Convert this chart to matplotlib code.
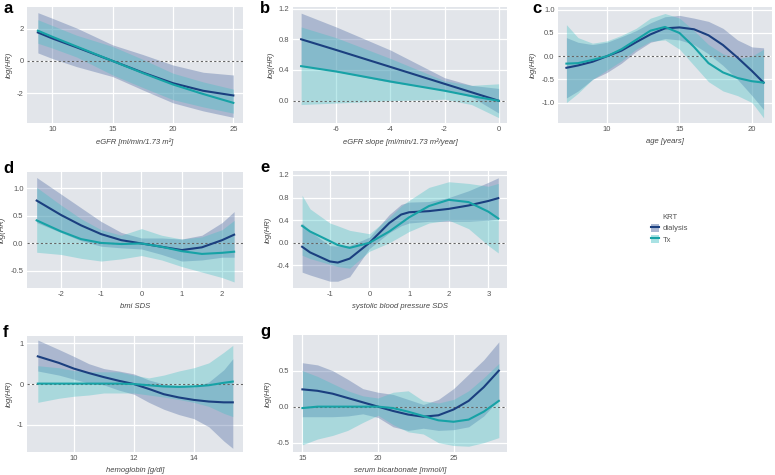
import matplotlib.pyplot as plt
from matplotlib.patches import Patch
from matplotlib.lines import Line2D

plt.rcParams['font.family'] = ['Liberation Sans', 'DejaVu Sans']
plt.rcParams['axes.unicode_minus'] = False

# ---- panel a: eGFR
a_x = [8.8, 10, 12, 15, 17.5, 20, 22.5, 25]
a_dia = [1.77, 1.4, 0.85, 0.0, -0.72, -1.38, -1.85, -2.14]
a_dia_lo = [0.5, 0.15, -0.35, -0.97, -1.8, -2.6, -3.1, -3.5]
a_dia_hi = [3.0, 2.65, 2.05, 1.0, 0.4, -0.25, -0.7, -0.87]
a_tx = [1.88, 1.5, 0.9, 0.0, -0.75, -1.46, -2.05, -2.6]
a_tx_lo = [1.1, 0.8, 0.25, -0.87, -1.65, -2.4, -2.85, -3.24]
a_tx_hi = [2.56, 2.2, 1.6, 0.9, 0.1, -0.76, -1.3, -1.75]

# ---- panel b: eGFR slope
b_x = [-7.3, -6, -4, -2, -1, 0]
b_dia = [0.8, 0.66, 0.44, 0.22, 0.11, 0.0]
b_dia_lo = [0.46, 0.38, 0.24, 0.14, 0.05, -0.16]
b_dia_hi = [1.14, 0.96, 0.66, 0.30, 0.20, 0.16]
b_tx = [0.45, 0.38, 0.25, 0.13, 0.06, 0.0]
b_tx_lo = [-0.05, -0.03, 0.0, 0.02, -0.05, -0.22]
b_tx_hi = [0.96, 0.82, 0.55, 0.26, 0.2, 0.22]

# ---- panel c: age
c_x = [7.2, 8, 9, 10, 11, 12, 13, 14, 15, 16, 17, 18, 19, 20, 20.8]
c_dia = [-0.25, -0.2, -0.12, 0.0, 0.12, 0.3, 0.47, 0.6, 0.62, 0.58, 0.45, 0.24, -0.03, -0.32, -0.57]
c_dia_lo = [-0.9, -0.75, -0.5, -0.35, -0.15, 0.1, 0.3, 0.38, 0.35, 0.25, 0.05, -0.2, -0.5, -0.85, -1.15]
c_dia_hi = [0.4, 0.3, 0.25, 0.3, 0.42, 0.55, 0.72, 0.85, 0.88, 0.82, 0.75, 0.6, 0.35, 0.2, 0.18]
c_tx = [-0.16, -0.15, -0.08, 0.0, 0.15, 0.35, 0.55, 0.63, 0.5, 0.2, -0.15, -0.35, -0.47, -0.54, -0.57]
c_tx_lo = [-1.0, -0.8, -0.5, -0.3, -0.1, 0.15, 0.32, 0.35, 0.15, -0.2, -0.55, -0.75, -0.85, -1.0, -1.33]
c_tx_hi = [0.68, 0.4, 0.28, 0.33, 0.45, 0.6, 0.82, 0.92, 0.82, 0.55, 0.25, 0.05, -0.05, 0.0, 0.15]

# ---- panel d: bmi SDS
d_x = [-2.6, -2, -1.5, -1, -0.5, 0, 0.5, 1, 1.5, 2, 2.3]
d_dia = [0.78, 0.52, 0.33, 0.17, 0.06, 0.0, -0.06, -0.12, -0.07, 0.06, 0.16]
d_dia_lo = [0.38, 0.2, 0.05, -0.05, -0.08, -0.1, -0.2, -0.32, -0.3, -0.25, -0.25]
d_dia_hi = [1.2, 0.9, 0.65, 0.4, 0.2, 0.1, 0.1, 0.08, 0.15, 0.38, 0.58]
d_tx = [0.42, 0.22, 0.08, 0.01, -0.01, 0.0, -0.06, -0.14, -0.19, -0.17, -0.15]
d_tx_lo = [-0.16, -0.2, -0.27, -0.32, -0.28, -0.22, -0.3, -0.42, -0.52, -0.62, -0.7]
d_tx_hi = [1.02, 0.7, 0.45, 0.25, 0.15, 0.27, 0.15, 0.08, 0.12, 0.25, 0.42]

# ---- panel e: systolic blood pressure SDS
e_x = [-1.7, -1.5, -1, -0.8, -0.5, 0, 0.5, 0.8, 1, 1.5, 2, 2.5, 3, 3.25]
e_dia = [-0.07, -0.17, -0.33, -0.35, -0.28, 0.0, 0.35, 0.5, 0.54, 0.56, 0.6, 0.66, 0.74, 0.79]
e_dia_lo = [-0.52, -0.57, -0.68, -0.68, -0.6, -0.1, 0.18, 0.3, 0.35, 0.38, 0.38, 0.38, 0.4, 0.42]
e_dia_hi = [0.35, 0.2, -0.05, -0.06, -0.05, 0.1, 0.5, 0.68, 0.72, 0.73, 0.8, 0.92, 1.07, 1.15]
e_tx = [0.3, 0.2, 0.03, -0.04, -0.09, 0.0, 0.2, 0.35, 0.45, 0.65, 0.76, 0.72, 0.55, 0.43]
e_tx_lo = [-0.22, -0.28, -0.38, -0.42, -0.45, -0.15, 0.0, 0.12, 0.2, 0.35, 0.4, 0.25, -0.05, -0.18]
e_tx_hi = [0.84, 0.6, 0.35, 0.3, 0.22, 0.16, 0.45, 0.65, 0.75, 0.98, 1.08, 1.05, 1.0, 1.05]

# ---- panel f: hemoglobin
f_x = [8.8, 9.5, 10, 10.5, 11, 11.5, 12, 12.5, 13, 13.5, 14, 14.5, 15, 15.3]
f_dia = [0.68, 0.52, 0.38, 0.27, 0.17, 0.08, 0.0, -0.12, -0.25, -0.33, -0.39, -0.43, -0.45, -0.45]
f_dia_lo = [0.32, 0.22, 0.12, 0.02, -0.02, -0.15, -0.25, -0.45, -0.62, -0.75, -0.85, -1.05, -1.4, -1.58]
f_dia_hi = [1.08, 0.85, 0.68, 0.5, 0.38, 0.32, 0.25, 0.1, 0.0, -0.05, -0.08, 0.05, 0.35, 0.62]
f_tx = [0.01, 0.01, 0.01, 0.01, 0.01, 0.01, 0.0, -0.03, -0.06, -0.07, -0.06, -0.03, 0.03, 0.06]
f_tx_lo = [-0.45, -0.35, -0.3, -0.27, -0.22, -0.22, -0.22, -0.27, -0.32, -0.38, -0.45, -0.55, -0.72, -0.8]
f_tx_hi = [0.45, 0.4, 0.33, 0.3, 0.3, 0.3, 0.22, 0.15, 0.22, 0.32, 0.4, 0.52, 0.78, 0.95]

# ---- panel g: serum bicarbonate
g_x = [15, 16, 17, 18, 19, 20, 21, 22, 23, 24, 25, 26, 27, 28]
g_dia = [0.24, 0.22, 0.18, 0.12, 0.06, 0.0, -0.06, -0.11, -0.14, -0.12, -0.04, 0.08, 0.27, 0.5]
g_dia_lo = [-0.14, -0.14, -0.14, -0.13, -0.1, -0.15, -0.28, -0.33, -0.3, -0.33, -0.32, -0.28, -0.13, 0.1]
g_dia_hi = [0.61, 0.58, 0.5, 0.38, 0.25, 0.2, 0.17, 0.1, 0.03, 0.1, 0.25, 0.45, 0.65, 0.9]
g_tx = [-0.02, 0.0, 0.0, 0.0, 0.0, 0.0, -0.02, -0.07, -0.13, -0.19, -0.21, -0.18, -0.07, 0.08]
g_tx_lo = [-0.53, -0.45, -0.4, -0.33, -0.22, -0.12, -0.25, -0.35, -0.38, -0.5, -0.54, -0.55, -0.5, -0.43]
g_tx_hi = [0.5, 0.42, 0.32, 0.22, 0.15, 0.12, 0.2, 0.22, 0.08, 0.05, 0.1, 0.22, 0.4, 0.6]

DIA_LINE = '#1b3f7f'
DIA_FILL = '#5a74a8'
TX_LINE = '#17a2a6'
TX_FILL = '#40c0c4'
BG = '#e2e5ea'

panels = [
    # label, rect(px: left, top, right, bottom), label offset, data, xlabel, xticks, yticks, xlim, ylim, yfmt
    ('a', (27, 7, 243, 123), 24, (a_x, a_dia, a_dia_lo, a_dia_hi, a_tx, a_tx_lo, a_tx_hi),
     'eGFR [ml/min/1.73 m²]', [10, 15, 20, 25], [-2, 0, 2], (7.9, 25.8), (-3.85, 3.35), '{:g}'),
    ('b', (293, 7, 507, 123), 33, (b_x, b_dia, b_dia_lo, b_dia_hi, b_tx, b_tx_lo, b_tx_hi),
     'eGFR slope [ml/min/1.73 m²/year]', [-6, -4, -2, 0], [0.0, 0.4, 0.8, 1.2], (-7.6, 0.31), (-0.29, 1.22), '{:.1f}'),
    ('c', (558, 7, 772, 123), 26, (c_x, c_dia, c_dia_lo, c_dia_hi, c_tx, c_tx_lo, c_tx_hi),
     'age [years]', [10, 15, 20], [-1.0, -0.5, 0.0, 0.5, 1.0], (6.62, 21.38), (-1.44, 1.06), '{:.1f}'),
    ('d', (27, 172, 243, 288), 24, (d_x, d_dia, d_dia_lo, d_dia_hi, d_tx, d_tx_lo, d_tx_hi),
     'bmi SDS', [-2, -1, 0, 1, 2], [-0.5, 0.0, 0.5, 1.0], (-2.84, 2.52), (-0.81, 1.3), '{:.1f}'),
    ('e', (293, 171, 507, 288), 33, (e_x, e_dia, e_dia_lo, e_dia_hi, e_tx, e_tx_lo, e_tx_hi),
     'systolic blood pressure SDS', [-1, 0, 1, 2, 3], [-0.4, 0.0, 0.4, 0.8, 1.2], (-1.93, 3.47), (-0.8, 1.27), '{:.1f}'),
    ('f', (27, 336, 243, 452), 24, (f_x, f_dia, f_dia_lo, f_dia_hi, f_tx, f_tx_lo, f_tx_hi),
     'hemoglobin [g/dl]', [10, 12, 14], [-1, 0, 1], (8.44, 15.64), (-1.67, 1.18), '{:g}'),
    ('g', (293, 335, 507, 452), 33, (g_x, g_dia, g_dia_lo, g_dia_hi, g_tx, g_tx_lo, g_tx_hi),
     'serum bicarbonate [mmol/l]', [15, 20, 25], [-0.5, 0.0, 0.5], (14.38, 28.54), (-0.63, 0.995), '{:.1f}'),
]

W, H = 775, 475
fig = plt.figure(figsize=(W / 100, H / 100), dpi=100)

for lab, (l, t, r, b), off, data, xlab, xt, yt, xl, yl, yfmt in panels:
    ax = fig.add_axes([l / W, 1 - b / H, (r - l) / W, (b - t) / H])
    x, dm, dlo, dhi, tm, tlo, thi = data
    ax.set_facecolor(BG)
    ax.fill_between(x, dlo, dhi, color=DIA_FILL, alpha=0.4, lw=0, zorder=2)
    ax.fill_between(x, tlo, thi, color=TX_FILL, alpha=0.35, lw=0, zorder=2)
    ax.axhline(0, color='#666666', lw=0.8, ls=(0, (2, 2)), zorder=3)
    ax.plot(x, dm, color=DIA_LINE, lw=1.5, zorder=4)
    ax.plot(x, tm, color=TX_LINE, lw=1.5, zorder=4)
    ax.set_xlim(*xl)
    ax.set_ylim(*yl)
    ax.set_xticks(xt)
    ax.set_yticks(yt)
    ax.set_yticklabels([yfmt.format(v) for v in yt])
    ax.grid(True, color='white', lw=0.9, zorder=1)
    ax.set_axisbelow(True)
    for s in ax.spines.values():
        s.set_visible(False)
    ax.tick_params(length=0, labelsize=5.5, labelcolor='#555555', pad=2.5)
    ax.set_xlabel(xlab, fontsize=5.5, style='italic', color='#444444', labelpad=3.5)
    ax.set_ylabel('log(HR)', fontsize=5.5, style='italic', color='#444444', labelpad=3)
    fig.text((l - off) / W, 1 - max(t - 11, 1) / H, lab, fontsize=12, fontweight='bold',
             va='top', ha='left')

handles = [
    (Patch(facecolor=DIA_FILL, alpha=0.5, edgecolor='none'), Line2D([], [], color=DIA_LINE, lw=1.5)),
    (Patch(facecolor=TX_FILL, alpha=0.45, edgecolor='none'), Line2D([], [], color=TX_LINE, lw=1.5)),
]
leg = fig.legend(handles, ['dialysis', 'Tx'], title='KRT', loc='center left',
                 bbox_to_anchor=(644 / W, 1 - 229 / H), frameon=False, fontsize=5.5,
                 title_fontsize=5.5, handlelength=1.1, handleheight=1.3, labelspacing=0.3,
                 handletextpad=0.5)
for txt in leg.get_texts():
    txt.set_color('#555555')
leg.get_title().set_color('#555555')

fig.savefig('out.png', dpi=100)
